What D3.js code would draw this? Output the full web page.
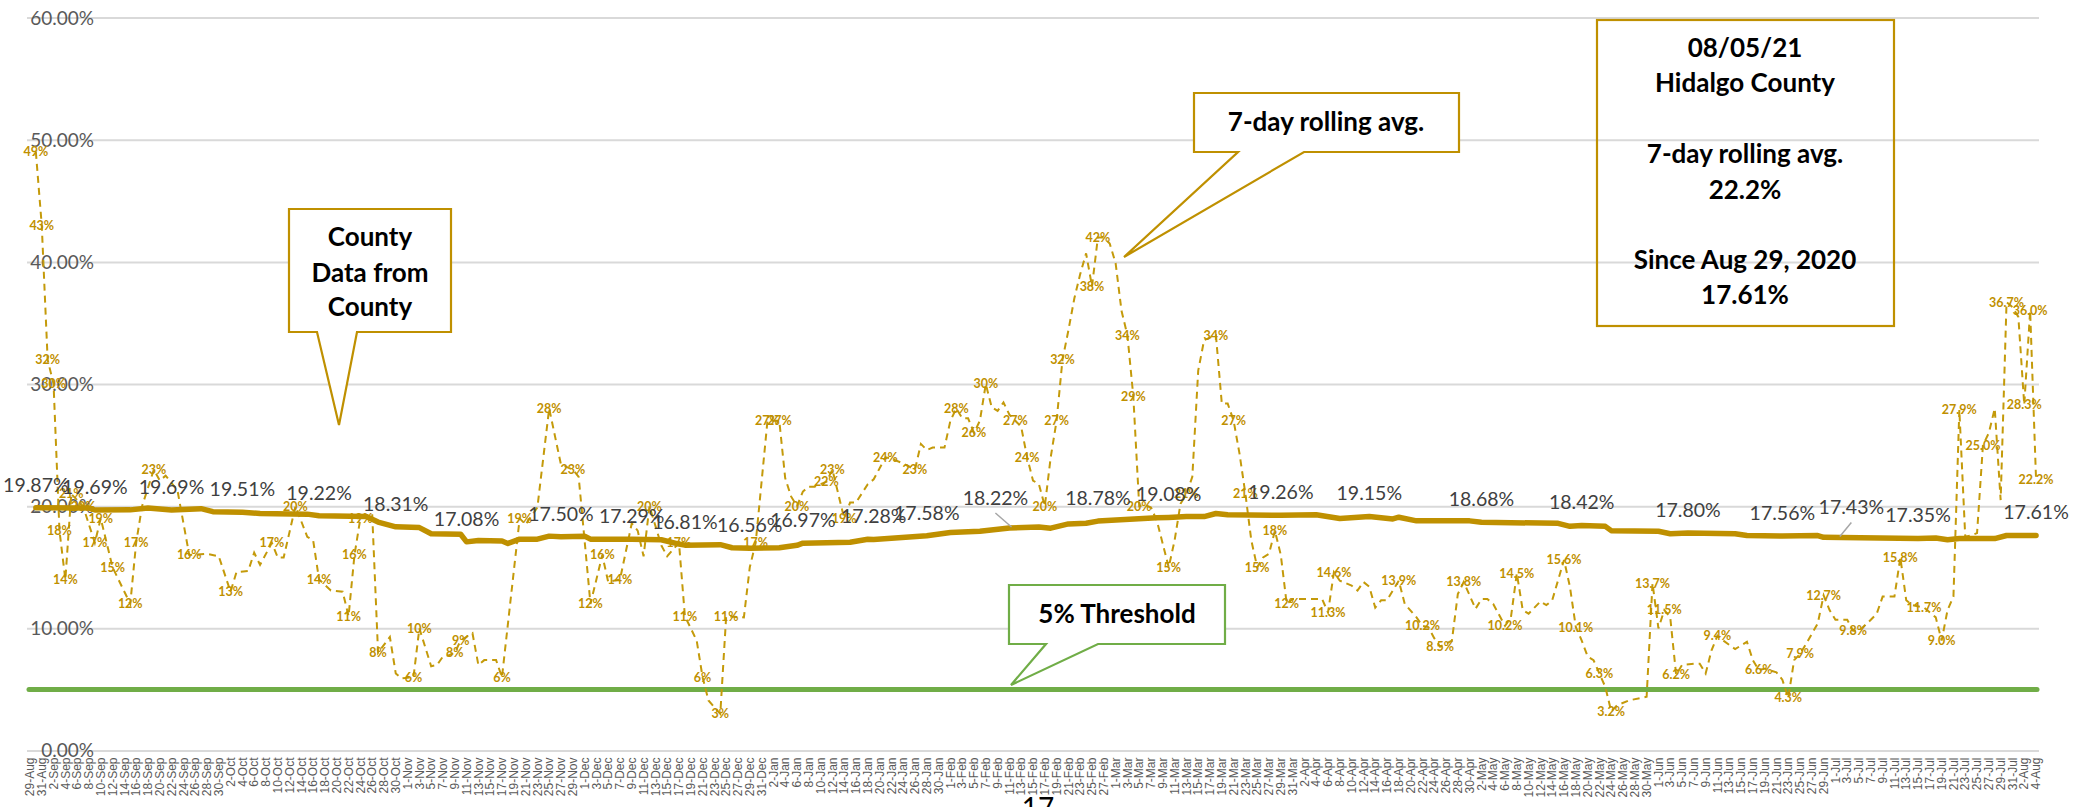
<!DOCTYPE html>
<html>
<head>
<meta charset="utf-8">
<script src="https://cdn.jsdelivr.net/npm/d3@7"></script>
<style>
  html, body { margin: 0; padding: 0; background: #fff; }
  svg { display: block; }
</style>
</head>
<body>
<svg id="chart" width="2073" height="807"></svg>
<script>
// ---- Category range (one category per day) ----
const firstDay = "2020-08-29";
const lastDay = "2021-08-04";

// ---- Daily positivity rate (%) ----
const dailyDates = [
  "2020-08-30","2020-08-31","2020-09-01","2020-09-02","2020-09-03","2020-09-04","2020-09-05","2020-09-07","2020-09-09","2020-09-10",
  "2020-09-11","2020-09-12","2020-09-13","2020-09-15","2020-09-16","2020-09-17","2020-09-19","2020-09-20","2020-09-21","2020-09-23",
  "2020-09-25","2020-09-28","2020-09-30","2020-10-02","2020-10-03","2020-10-05","2020-10-06","2020-10-07","2020-10-09","2020-10-10",
  "2020-10-11","2020-10-13","2020-10-15","2020-10-16","2020-10-17","2020-10-19","2020-10-21","2020-10-22","2020-10-23","2020-10-24",
  "2020-10-26","2020-10-27","2020-10-29","2020-10-30","2020-10-31","2020-11-02","2020-11-03","2020-11-05","2020-11-06","2020-11-07",
  "2020-11-08","2020-11-09","2020-11-10","2020-11-12","2020-11-13","2020-11-14","2020-11-16","2020-11-17","2020-11-20","2020-11-21",
  "2020-11-23","2020-11-25","2020-11-27","2020-11-29","2020-11-30","2020-12-02","2020-12-04","2020-12-05","2020-12-07","2020-12-09",
  "2020-12-10","2020-12-11","2020-12-12","2020-12-14","2020-12-15","2020-12-17","2020-12-18","2020-12-20","2020-12-21","2020-12-22",
  "2020-12-24","2020-12-25","2020-12-28","2020-12-29","2020-12-30","2021-01-01","2021-01-03","2021-01-04","2021-01-05","2021-01-06",
  "2021-01-07","2021-01-08","2021-01-09","2021-01-11","2021-01-12","2021-01-14","2021-01-15","2021-01-16","2021-01-18","2021-01-19",
  "2021-01-21","2021-01-22","2021-01-24","2021-01-26","2021-01-27","2021-01-28","2021-01-29","2021-01-31","2021-02-01","2021-02-02",
  "2021-02-03","2021-02-04","2021-02-05","2021-02-06","2021-02-07","2021-02-08","2021-02-09","2021-02-10","2021-02-11","2021-02-12",
  "2021-02-13","2021-02-14","2021-02-15","2021-02-16","2021-02-17","2021-02-18","2021-02-19","2021-02-20","2021-02-21","2021-02-22",
  "2021-02-23","2021-02-24","2021-02-25","2021-02-26","2021-02-27","2021-02-28","2021-03-01","2021-03-02","2021-03-03","2021-03-04",
  "2021-03-05","2021-03-06","2021-03-07","2021-03-08","2021-03-10","2021-03-11","2021-03-12","2021-03-13","2021-03-14","2021-03-15",
  "2021-03-16","2021-03-18","2021-03-19","2021-03-20","2021-03-21","2021-03-22","2021-03-23","2021-03-24","2021-03-25","2021-03-26",
  "2021-03-27","2021-03-28","2021-03-29","2021-03-30","2021-03-31","2021-04-02","2021-04-04","2021-04-05","2021-04-06","2021-04-07",
  "2021-04-08","2021-04-10","2021-04-11","2021-04-12","2021-04-13","2021-04-14","2021-04-15","2021-04-16","2021-04-18","2021-04-19",
  "2021-04-21","2021-04-22","2021-04-23","2021-04-24","2021-04-25","2021-04-27","2021-04-28","2021-04-29","2021-05-01","2021-05-02",
  "2021-05-03","2021-05-04","2021-05-06","2021-05-07","2021-05-08","2021-05-09","2021-05-10","2021-05-12","2021-05-13","2021-05-14",
  "2021-05-16","2021-05-17","2021-05-18","2021-05-19","2021-05-20","2021-05-21","2021-05-22","2021-05-23","2021-05-24","2021-05-25",
  "2021-05-27","2021-05-29","2021-05-30","2021-05-31","2021-06-01","2021-06-02","2021-06-03","2021-06-04","2021-06-05","2021-06-07",
  "2021-06-08","2021-06-09","2021-06-10","2021-06-11","2021-06-12","2021-06-14","2021-06-15","2021-06-16","2021-06-17","2021-06-18",
  "2021-06-19","2021-06-21","2021-06-22","2021-06-23","2021-06-24","2021-06-25","2021-06-26","2021-06-28","2021-06-29","2021-06-30",
  "2021-07-01","2021-07-03","2021-07-04","2021-07-05","2021-07-07","2021-07-08","2021-07-09","2021-07-11","2021-07-12","2021-07-13",
  "2021-07-14","2021-07-16","2021-07-18","2021-07-19","2021-07-20","2021-07-21","2021-07-22","2021-07-23","2021-07-24","2021-07-25",
  "2021-07-26","2021-07-27","2021-07-28","2021-07-29","2021-07-30","2021-07-31","2021-08-01","2021-08-02","2021-08-03","2021-08-04"
];
const dailyValues = [
  49, 43, 32, 30, 18, 14, 21, 20, 17, 19,
  17, 15, 14, 12, 17, 20, 23, 22.1, 22.5, 21.3,
  16, 16.1, 15.9, 13, 14.6, 14.7, 16.2, 15.2, 17, 15.8,
  15.8, 20, 17.5, 17.2, 14, 13.1, 13, 11, 16, 19,
  19.4, 8, 9.3, 6.3, 5.9, 6, 10, 6.9, 7.0, 7.7,
  7.8, 8, 9, 9.6, 7.0, 7.4, 7.4, 6, 19, 18.5,
  19.9, 28, 23.4, 23, 22.4, 12, 16, 13.8, 14, 18.6,
  18, 15.9, 20, 16.8, 15.9, 17, 11, 9.0, 6, 4.1,
  3, 11, 10.9, 15, 17, 27, 27, 22.3, 20.8, 20,
  21.2, 21.6, 21.6, 22, 23, 19, 20.3, 20.3, 21.8, 22.2,
  24, 23.9, 23.5, 23, 25.1, 24.6, 24.8, 24.8, 27.0, 28,
  27.2, 27.2, 26, 27, 30, 28.1, 27.8, 28.5, 27.5, 27,
  26.5, 24, 22.1, 21.8, 20, 24, 27, 32, 34.4, 37,
  39, 40.7, 38, 42, 42, 41.5, 39.9, 36, 34, 29,
  20, 20.1, 19.9, 18.8, 15, 17.2, 20.2, 21, 22.4, 31.1,
  33.6, 34, 28.4, 28.4, 27, 24.3, 21, 17.2, 15, 15.8,
  16.1, 18, 16, 12, 12.4, 12.4, 12.4, 12.4, 11.3, 14.6,
  13.9, 13.5, 13.1, 13.8, 13.4, 11.7, 12.3, 12.3, 13.9, 12.0,
  10.9, 10.2, 10.1, 9.2, 8.5, 9.0, 12.8, 13.8, 11.6, 12.4,
  12.4, 12.0, 10.2, 10.9, 14.5, 11.5, 11.2, 12.2, 11.9, 12.3,
  15.6, 13.4, 10.1, 9.0, 7.7, 7.4, 6.3, 5.2, 3.2, 3.7,
  4.1, 4.3, 4.4, 13.7, 10.0, 11.5, 10.9, 6.2, 7.0, 7.1,
  7.1, 6.3, 8.2, 9.4, 9.0, 8.3, 8.6, 8.9, 7.4, 6.6,
  6.7, 6.4, 5.8, 4.3, 7.4, 7.9, 8.7, 10.4, 12.7, 11.5,
  10.7, 10.7, 9.8, 9.8, 10.7, 11.2, 12.6, 12.6, 15.8, 12.3,
  11.9, 11.7, 10.9, 9.0, 11.5, 12.6, 27.9, 17.5, 17.6, 17.8,
  25.0, 26, 28, 20.5, 36.7, 36.3, 35.5, 28.3, 36.0, 22.2
];
// 1 = the point carries a value label
const dailyLabelled = [
  1,1,1,1,1,1,1,1,1,1,
  0,1,0,1,1,0,1,0,0,0,
  1,0,0,1,0,0,0,0,1,0,
  0,1,0,0,1,0,0,1,1,1,
  0,1,0,0,0,1,1,0,0,0,
  0,1,1,0,0,0,0,1,1,0,
  0,1,0,1,0,1,1,0,1,0,
  0,0,1,0,0,1,1,0,1,0,
  1,1,0,0,1,1,1,0,0,1,
  0,0,0,1,1,1,0,0,0,0,
  1,0,0,1,0,0,0,0,0,1,
  0,0,1,0,1,0,0,0,0,1,
  0,1,0,0,1,0,1,1,0,0,
  0,0,1,1,0,0,0,0,1,1,
  1,0,0,0,1,0,0,1,0,0,
  0,1,0,0,1,0,1,0,1,0,
  0,1,0,1,0,0,0,0,1,1,
  0,0,0,0,0,0,0,0,1,0,
  0,1,0,0,1,0,0,1,0,0,
  0,0,1,0,1,0,0,0,0,0,
  1,0,1,0,0,0,1,0,1,0,
  0,0,0,1,0,1,0,1,0,0,
  0,0,0,1,0,0,0,0,0,1,
  0,0,0,1,0,1,0,0,1,0,
  0,0,1,0,0,0,0,0,1,0,
  0,1,0,1,0,0,1,0,0,0,
  1,0,0,0,1,0,0,1,1,1
];

// ---- Average positivity since Aug 29, 2020 (%) ----
const avgDates = [
  "2020-08-30","2020-09-08","2020-09-09","2020-09-15","2020-09-18","2020-09-22","2020-09-27","2020-09-29","2020-10-04","2020-10-07",
  "2020-10-15","2020-10-17","2020-10-25","2020-10-27","2020-10-30","2020-11-03","2020-11-05","2020-11-10","2020-11-11","2020-11-13",
  "2020-11-17","2020-11-18","2020-11-20","2020-11-23","2020-11-25","2020-11-27","2020-12-01","2020-12-02","2020-12-09","2020-12-14",
  "2020-12-17","2020-12-18","2020-12-24","2020-12-26","2020-12-29","2021-01-03","2021-01-06","2021-01-07","2021-01-15","2021-01-18",
  "2021-01-19","2021-01-28","2021-02-01","2021-02-06","2021-02-11","2021-02-16","2021-02-18","2021-02-21","2021-02-24","2021-02-26",
  "2021-03-08","2021-03-10","2021-03-13","2021-03-16","2021-03-18","2021-03-20","2021-03-29","2021-04-04","2021-04-08","2021-04-13",
  "2021-04-17","2021-04-18","2021-04-21","2021-04-30","2021-05-02","2021-05-15","2021-05-17","2021-05-19","2021-05-23","2021-05-24",
  "2021-06-01","2021-06-03","2021-06-06","2021-06-14","2021-06-16","2021-06-22","2021-06-28","2021-06-29","2021-07-02","2021-07-15",
  "2021-07-18","2021-07-20","2021-07-22","2021-07-28","2021-07-30","2021-08-04"
];
const avgValues = [
  19.87, 19.85, 19.69, 19.70, 19.85, 19.69, 19.80, 19.55, 19.51, 19.40,
  19.35, 19.22, 19.15, 18.70, 18.31, 18.25, 17.75, 17.70, 17.08, 17.20,
  17.15, 16.95, 17.30, 17.30, 17.55, 17.50, 17.55, 17.30, 17.29, 17.25,
  16.90, 16.81, 16.85, 16.60, 16.56, 16.60, 16.80, 16.97, 17.05, 17.30,
  17.28, 17.58, 17.85, 17.95, 18.22, 18.30, 18.20, 18.55, 18.60, 18.78,
  19.05, 19.08, 19.15, 19.15, 19.40, 19.30, 19.26, 19.30, 19.00, 19.15,
  18.96, 19.10, 18.80, 18.80, 18.68, 18.60, 18.35, 18.42, 18.35, 18.00,
  17.95, 17.75, 17.80, 17.75, 17.60, 17.56, 17.60, 17.45, 17.43, 17.35,
  17.40, 17.25, 17.35, 17.35, 17.60, 17.61
];
const avgLabelled = [
  1,0,1,0,0,1,0,0,1,0,
  0,1,0,0,1,0,0,0,1,0,
  0,0,0,0,0,1,0,0,1,0,
  0,1,0,0,1,0,0,1,0,0,
  1,1,0,0,1,0,0,0,0,1,
  0,1,0,0,0,0,1,0,0,1,
  0,0,0,0,1,0,0,1,0,0,
  0,0,1,0,0,1,0,0,1,1,
  0,0,0,0,0,1
];

const yTicks = [0, 10, 20, 30, 40, 50, 60];
const thresholdValue = 5;

// ---- Layout ----
const W = 2073, H = 807;
const plot = { left: 27, right: 2039, top: 17.6, bottom: 750.5 };
const GOLD = "#BF9000";
const GREEN = "#70AD47";

const parse = d3.timeParse("%Y-%m-%d");
const keyFmt = d3.timeFormat("%Y-%m-%d");
const tickFmt = d3.timeFormat("%-d-%b");
const days = d3.timeDay.range(parse(firstDay), d3.timeDay.offset(parse(lastDay), 1)).map(keyFmt);

const x = d3.scaleBand().domain(days).range([plot.left, plot.right]).padding(0);
const xc = k => x(k) + x.bandwidth() / 2;
const y = d3.scaleLinear().domain([0, 60]).range([plot.bottom, plot.top]);

const svg = d3.select("#chart");
svg.append("rect").attr("width", W).attr("height", H).attr("fill", "#fff");

// Horizontal gridlines and percentage labels
const yAxis = svg.append("g")
  .attr("transform", `translate(${plot.left},0)`)
  .call(d3.axisLeft(y).tickValues(yTicks).tickSize(-(plot.right - plot.left))
    .tickFormat(v => v.toFixed(2) + "%"));
yAxis.select(".domain").remove();
yAxis.selectAll(".tick line").attr("stroke", "#D9D9D9").attr("stroke-width", 2);
yAxis.selectAll(".tick text")
  .attr("x", 67).attr("text-anchor", "end").attr("dy", "0.34em")
  .attr("fill", "#595959")
  .style("font-family", "Lato, 'Open Sans', sans-serif").style("font-size", "19px");

// Date axis, every second day, rotated
const xAxis = svg.append("g")
  .attr("transform", `translate(0,${plot.bottom})`)
  .call(d3.axisBottom(x).tickValues(days.filter((d, i) => i % 2 === 0)).tickSize(0)
    .tickFormat(k => tickFmt(parse(k))));
xAxis.select(".domain").remove();
xAxis.selectAll(".tick text")
  .attr("transform", "rotate(-90)")
  .attr("text-anchor", "end")
  .attr("x", -7).attr("y", 0).attr("dy", "0.35em")
  .attr("fill", "#595959")
  .style("font-family", "'Liberation Sans', Arial, sans-serif").style("font-size", "12px");

// 5% threshold
svg.append("line")
  .attr("x1", plot.left + 2).attr("x2", plot.right - 2)
  .attr("y1", y(thresholdValue)).attr("y2", y(thresholdValue))
  .attr("stroke", GREEN).attr("stroke-width", 5).attr("stroke-linecap", "round");

// Data rows
const daily = dailyDates.map((d, i) => ({ key: d, v: dailyValues[i], lab: dailyLabelled[i] === 1 }));
const avg = avgDates.map((d, i) => ({ key: d, v: avgValues[i], lab: avgLabelled[i] === 1 }));

const line = d3.line().x(d => xc(d.key)).y(d => y(d.v));

// Daily rate: dashed line
svg.append("path").datum(daily)
  .attr("d", line)
  .attr("fill", "none").attr("stroke", "#C49A0A").attr("stroke-width", 2)
  .attr("stroke-dasharray", "7 5");

// Running average: thick line
svg.append("path").datum(avg)
  .attr("d", line)
  .attr("fill", "none").attr("stroke", GOLD).attr("stroke-width", 5.5)
  .attr("stroke-linejoin", "round").attr("stroke-linecap", "round");

// Daily value labels (whole percent until April, one decimal after)
svg.append("g").selectAll("text")
  .data(daily.filter(d => d.lab))
  .join("text")
  .attr("x", d => xc(d.key)).attr("y", d => y(d.v)).attr("dy", "0.35em")
  .attr("text-anchor", "middle")
  .attr("fill", GOLD)
  .style("font-family", "Lato, sans-serif").style("font-weight", "700").style("font-size", "12.5px")
  .text(d => d.v.toFixed(d.key >= "2021-04-01" ? 1 : 0) + "%");

// Running average labels; two are set aside with a leader line
const labelShift = { "2021-02-11": -14, "2021-07-02": 10 };
const avgLab = svg.append("g");
avg.filter(d => d.lab).forEach(d => {
  const shift = labelShift[d.key];
  const px = xc(d.key), py = y(d.v);
  const lx = shift ? px + shift : px;
  const ly = shift ? py - 30 : py - 23;
  if (shift) {
    avgLab.append("line")
      .attr("x1", lx).attr("y1", ly + 15).attr("x2", px - shift * 0.15).attr("y2", py - 1)
      .attr("stroke", "#A6A6A6").attr("stroke-width", 1.5);
  }
  avgLab.append("text")
    .attr("x", lx).attr("y", ly).attr("dy", "0.35em")
    .attr("text-anchor", "middle")
    .attr("fill", "#404040")
    .style("font-family", "Lato, sans-serif").style("font-size", "19.5px")
    .text(d.v.toFixed(2) + "%");
});

// ---- Callouts ----
const calloutFont = s => s.style("font-family", "Lato, sans-serif").style("font-weight", "700")
  .style("font-size", "26px").attr("fill", "#000").attr("text-anchor", "middle").attr("dy", "0.35em");

function callout(c) {
  const g = svg.append("g");
  const p = `M${c.x0},${c.y0}H${c.x1}V${c.y1}H${c.b2}L${c.tx},${c.ty}L${c.b1},${c.y1}H${c.x0}Z`;
  g.append("path").attr("d", p).attr("fill", "#fff").attr("stroke", c.stroke).attr("stroke-width", 2.2)
    .attr("stroke-linejoin", "miter");
  c.lines.forEach((t, i) => {
    g.append("text").attr("x", c.cx).attr("y", c.cy[i]).text(t).call(calloutFont);
  });
}

callout({ x0: 289, y0: 209, x1: 451, y1: 332, b1: 317, b2: 357, tx: 339, ty: 425,
  stroke: GOLD, cx: 370, cy: [237, 273, 307], lines: ["County", "Data from", "County"] });

callout({ x0: 1194, y0: 93, x1: 1459, y1: 152, b1: 1238, b2: 1304, tx: 1124, ty: 257,
  stroke: GOLD, cx: 1326, cy: [122], lines: ["7-day rolling avg."] });

callout({ x0: 1009, y0: 585, x1: 1225, y1: 644, b1: 1046, b2: 1098, tx: 1011, ty: 685,
  stroke: GREEN, cx: 1117, cy: [614], lines: ["5% Threshold"] });

// Summary box (outline only)
const latestDaily = dailyValues[dailyValues.length - 1];
const latestAvg = avgValues[avgValues.length - 1];
const summary = svg.append("g");
summary.append("rect").attr("x", 1597).attr("y", 20).attr("width", 297).attr("height", 306)
  .attr("fill", "none").attr("stroke", GOLD).attr("stroke-width", 2.2);
[
  ["08/05/21", 48], ["Hidalgo County", 83],
  ["7-day rolling avg.", 154], [latestDaily.toFixed(1) + "%", 190],
  ["Since Aug 29, 2020", 260], [latestAvg.toFixed(2) + "%", 295]
].forEach(([t, yy]) => {
  summary.append("text").attr("x", 1745).attr("y", yy).text(t).call(calloutFont);
});

// Page number peeking in at the bottom edge
svg.append("text").attr("x", 1038).attr("y", 818).attr("text-anchor", "middle")
  .style("font-family", "Lato, sans-serif").style("font-size", "28px").attr("fill", "#000")
  .text("17");
</script>
</body>
</html>
